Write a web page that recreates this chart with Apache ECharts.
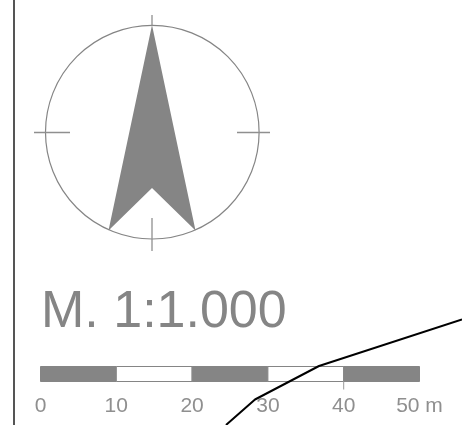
<!DOCTYPE html>
<html><head><meta charset="utf-8">
<style>html,body{margin:0;padding:0;background:#fff}#c{width:462px;height:425px}</style>
<script src="https://cdn.jsdelivr.net/npm/echarts@6/dist/echarts.min.js"></script>
</head><body><div id="c"></div>
<script>
var scaleTicks = [0, 10, 20, 30, 40, 50];
var scaleFills = ['#858585', '#ffffff', '#858585', '#ffffff', '#858585'];
var visibleTick = [40];
var scaleTitle = 'M. 1:1.000';
var roadLine = [[462, 319.5], [319, 366], [255, 399.5], [226, 425]];
var borderLine = [[14, 0], [14, 425]];
var compassCenter = [[152.3, 132.2]];
var compassRadius = [106.8];
var arrowShape = [[152, 25], [195.5, 230.5], [152, 188], [108.5, 230.5]];
var crossTicks = [[[152, 15], [152, 26]], [[152, 218], [152, 251]], [[34, 132.5], [70, 132.5]], [[237, 132.5], [270, 132.5]]];
var GREY = '#858585';

var chart = echarts.init(document.getElementById('c'), null, {renderer: 'canvas'});

function lineSeries(points, color, width, z) {
  return {type: 'line', xAxisIndex: 0, yAxisIndex: 0, data: points, symbol: 'none', silent: true,
    animation: false, z: z, lineStyle: {color: color, width: width}};
}

var series = [];
series.push({
  type: 'custom', xAxisIndex: 0, yAxisIndex: 0, silent: true, animation: false, z: 2,
  data: compassCenter, clip: false,
  renderItem: function (p, api) {
    var c = api.coord([api.value(0), api.value(1)]);
    return {type: 'circle', shape: {cx: c[0], cy: c[1], r: compassRadius[0]},
      style: {fill: null, stroke: GREY, lineWidth: 1.2}};
  }
});
crossTicks.forEach(function (t) { series.push(lineSeries(t, '#8f8f8f', 1.3, 2)); });
series.push({
  type: 'custom', xAxisIndex: 0, yAxisIndex: 0, silent: true, animation: false, z: 3,
  data: [0], clip: false,
  renderItem: function (p, api) {
    return {type: 'polygon', shape: {points: arrowShape.map(function (a) { return api.coord(a); })},
      style: {fill: GREY, stroke: null}};
  }
});
series.push({
  type: 'custom', xAxisIndex: 1, yAxisIndex: 1, silent: true, animation: false, z: 4,
  data: scaleFills.map(function (f, i) { return [scaleTicks[i], scaleTicks[i + 1], i]; }),
  renderItem: function (p, api) {
    var a = api.coord([api.value(0), 1]);
    var b = api.coord([api.value(1), 0]);
    return {type: 'rect', shape: {x: a[0], y: a[1], width: b[0] - a[0], height: b[1] - a[1]},
      style: {fill: scaleFills[api.value(2)], stroke: GREY, lineWidth: 1}};
  }
});
series.push({
  type: 'custom', xAxisIndex: 1, yAxisIndex: 1, silent: true, animation: false, z: 4,
  data: visibleTick.map(function (v) { return [v]; }), clip: false,
  renderItem: function (p, api) {
    var a = api.coord([api.value(0), 0]);
    return {type: 'line', shape: {x1: a[0], y1: a[1], x2: a[0], y2: a[1] + 8},
      style: {stroke: '#999999', lineWidth: 1}};
  }
});
series.push(lineSeries(borderLine, '#555555', 2, 5));
series.push(lineSeries(roadLine, '#000000', 2, 10));

chart.setOption({
  animation: false,
  backgroundColor: '#ffffff',
  title: {text: scaleTitle, left: 41, top: 287, padding: 0,
    textStyle: {fontFamily: 'Liberation Sans', fontSize: 52, fontWeight: 'normal', color: GREY}},
  grid: [
    {left: 0, top: 0, width: 462, height: 425},
    {left: 40.5, top: 366.5, width: 379, height: 15}
  ],
  xAxis: [
    {type: 'value', gridIndex: 0, min: 0, max: 462, show: false},
    {type: 'value', gridIndex: 1, min: 0, max: 50, interval: 10,
      axisLine: {show: false}, axisTick: {show: false}, splitLine: {show: false},
      axisLabel: {show: true, margin: 14, fontFamily: 'Liberation Sans', fontSize: 21, color: '#8f8f8f',
        hideOverlap: false, showMinLabel: true, showMaxLabel: true,
        formatter: function (v) { return v === 50 ? '50 m' : String(v); }}}
  ],
  yAxis: [
    {type: 'value', gridIndex: 0, min: 0, max: 425, inverse: true, show: false},
    {type: 'value', gridIndex: 1, min: 0, max: 1, show: false}
  ],
  series: series
});
</script></body></html>
